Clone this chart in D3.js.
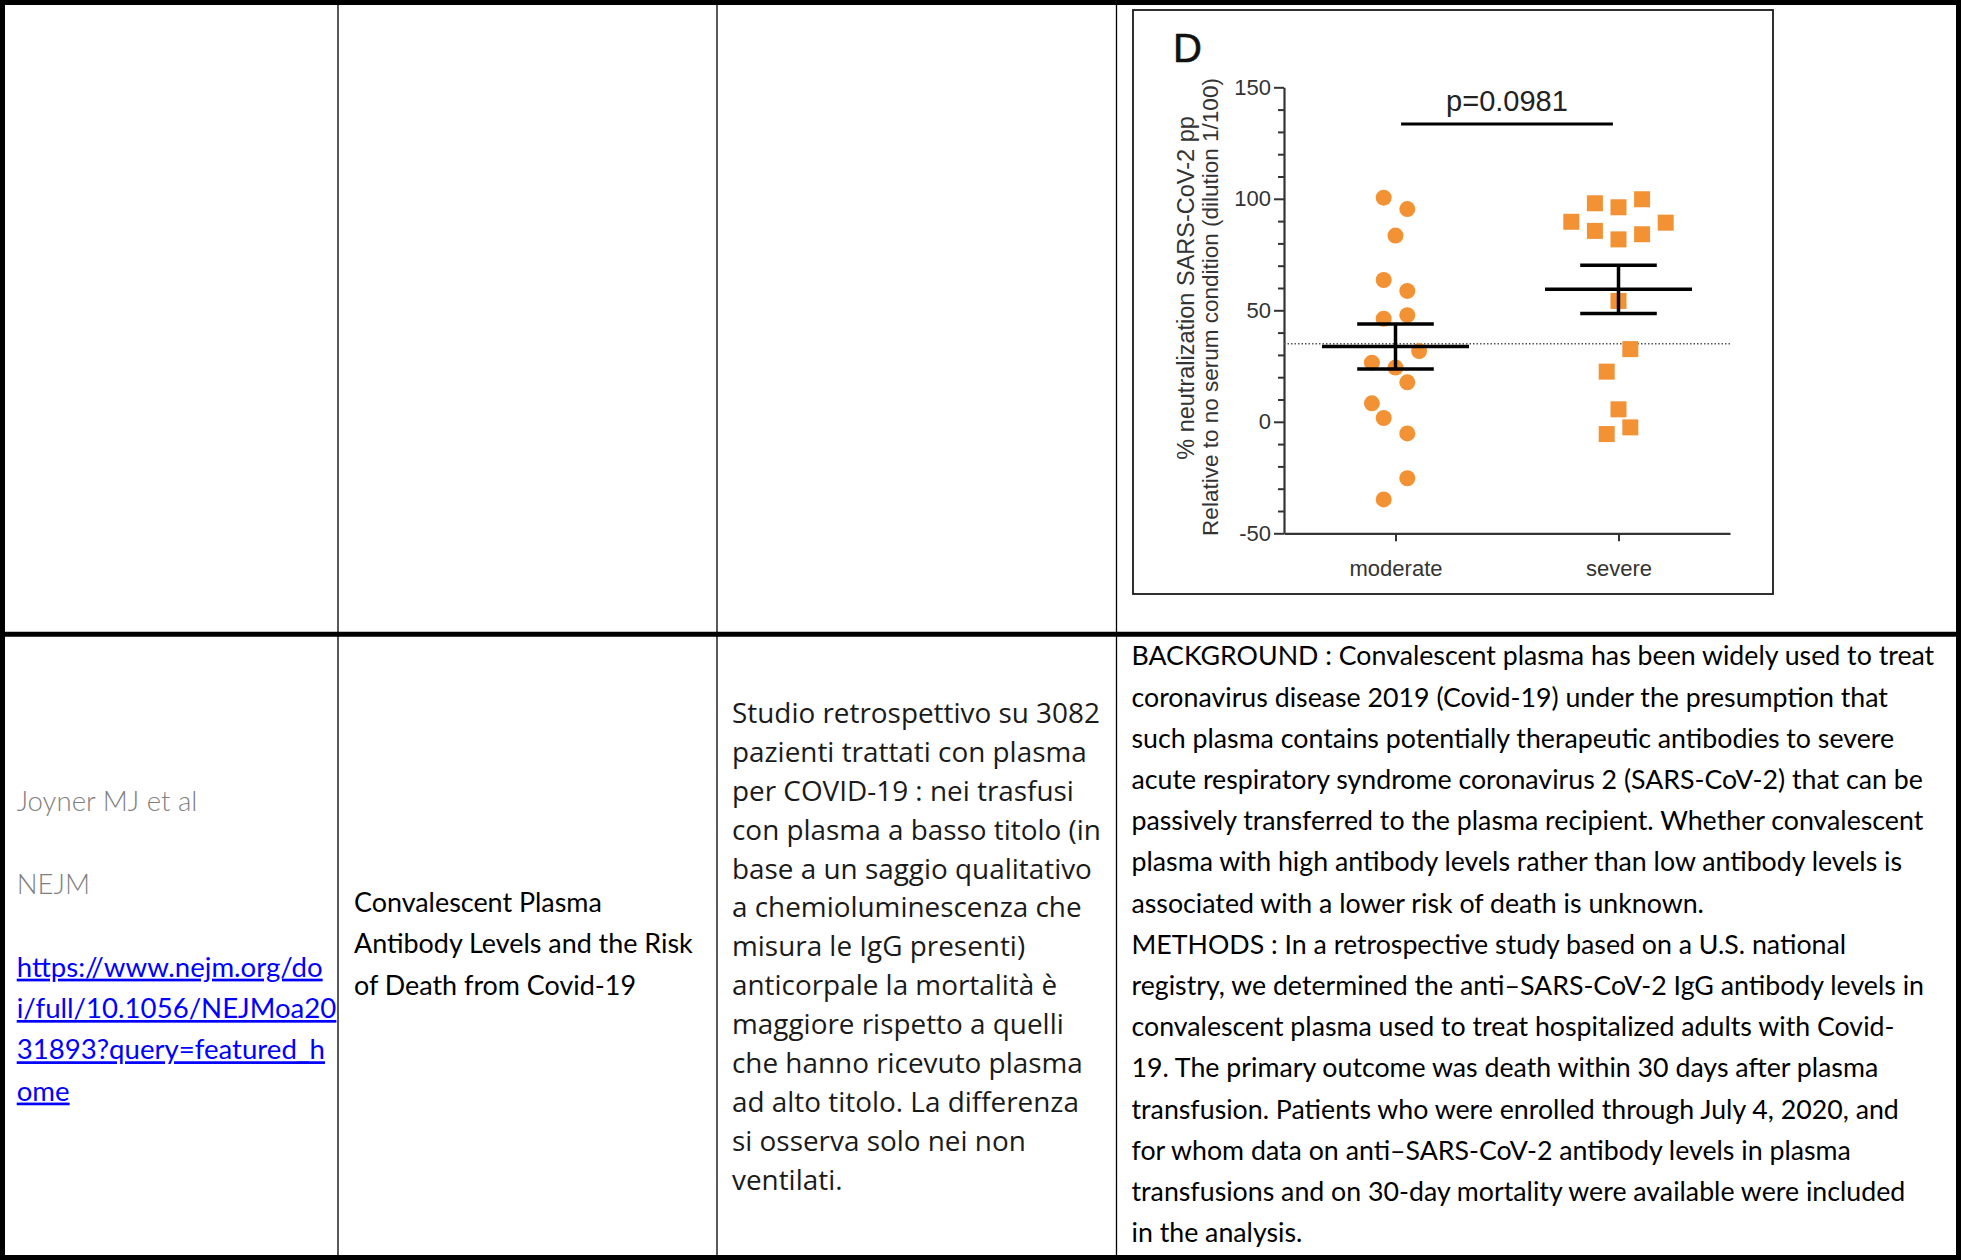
<!DOCTYPE html>
<html>
<head>
<meta charset="utf-8">
<script src="https://cdn.jsdelivr.net/npm/d3@7"></script>
<style>
html, body { margin: 0; padding: 0; background: #fff; overflow: hidden; }
</style>
</head>
<body>
<svg id="page" width="1961" height="1260"></svg>
<script>
// ---------------- DATA ----------------
const categories = ["moderate", "severe"];
const moderateValues = [100.5, 95.4, 83.5, 63.6, 58.7, 47.8, 46.2, 31.7, 26.5, 24.3, 17.7, 8.3, 1.7, -5.2, -25.3, -34.8];
const moderateJitter = [-1, 1, 0, -1, 1, 1, -1, 2, -2, 0, 1, -2, -1, 1, 1, -1];
const severeValues = [89.7, 98.0, 96.2, 99.8, 89.3, 85.6, 81.8, 84.1, 54.2, 32.6, 22.5, 5.6, -2.5, -5.5];
const severeJitter = [-4, -2, 0, 2, 4, -2, 0, 2, 0, 1, -1, 0, 1, -1];
const yTicks = [-50, 0, 50, 100, 150];
const yMinorTicks = d3.range(-50, 151, 10);
const yDomain = [-50, 150];
const referenceValue = 35;
const pValueLabel = "p=0.0981";
const panelLabel = "D";
const yTitleLines = ["% neutralization SARS-CoV-2 pp", "Relative to no serum condition (dilution 1/100)"];

const col1Lines = ["Joyner MJ et al", "", "NEJM", "", "https://www.nejm.org/do", "i/full/10.1056/NEJMoa20", "31893?query=featured_h", "ome"];
const col1Kinds = ["plain", "plain", "plain", "plain", "link", "link", "link", "link"];
const col2Lines = ["Convalescent Plasma", "Antibody Levels and the Risk", "of Death from Covid-19"];
const col3Lines = [
  "Studio retrospettivo su 3082",
  "pazienti trattati con plasma",
  "per COVID-19 : nei trasfusi",
  "con plasma a basso titolo (in",
  "base a un saggio qualitativo",
  "a chemioluminescenza che",
  "misura le IgG presenti)",
  "anticorpale la mortalità è",
  "maggiore rispetto a quelli",
  "che hanno ricevuto plasma",
  "ad alto titolo. La differenza",
  "si osserva solo nei non",
  "ventilati."
];
const col4Lines = [
  "BACKGROUND : Convalescent plasma has been widely used to treat",
  "coronavirus disease 2019 (Covid-19) under the presumption that",
  "such plasma contains potentially therapeutic antibodies to severe",
  "acute respiratory syndrome coronavirus 2 (SARS-CoV-2) that can be",
  "passively transferred to the plasma recipient. Whether convalescent",
  "plasma with high antibody levels rather than low antibody levels is",
  "associated with a lower risk of death is unknown.",
  "METHODS : In a retrospective study based on a U.S. national",
  "registry, we determined the anti\u2013SARS-CoV-2 IgG antibody levels in",
  "convalescent plasma used to treat hospitalized adults with Covid-",
  "19. The primary outcome was death within 30 days after plasma",
  "transfusion. Patients who were enrolled through July 4, 2020, and",
  "for whom data on anti\u2013SARS-CoV-2 antibody levels in plasma",
  "transfusions and on 30-day mortality were available were included",
  "in the analysis."
];

// ---------------- PAGE / TABLE ----------------
const W = 1961, H = 1260;
const svg = d3.select("#page");
svg.append("rect").attr("width", W).attr("height", H).attr("fill", "#fff");

const grid = svg.append("g");
[338, 717, 1116.5].forEach(x => {
  grid.append("line").attr("x1", x).attr("x2", x).attr("y1", 0).attr("y2", H)
    .attr("stroke", "#000").attr("stroke-width", 1.3);
});
grid.append("line").attr("x1", 0).attr("x2", W).attr("y1", 634.3).attr("y2", 634.3)
  .attr("stroke", "#000").attr("stroke-width", 5);
grid.append("rect").attr("x", 2.5).attr("y", 2.5).attr("width", W - 5).attr("height", H - 5)
  .attr("fill", "none").attr("stroke", "#000").attr("stroke-width", 5);

function drawCell(cfg) {
  const inner = svg.append("g");
  cfg.lines.forEach((t, i) => {
    if (!t) return;
    const kind = cfg.kinds ? cfg.kinds[i] : "plain";
    const txt = inner.append("text")
      .attr("x", 0)
      .attr("y", cfg.y0 + i * cfg.lh)
      .attr("font-family", cfg.font)
      .attr("font-size", cfg.size)
      .attr("font-weight", kind === "link" ? 400 : (cfg.weight || 400))
      .attr("fill", kind === "link" ? "#0000ff" : cfg.color)
      .text(t);
    if (kind === "link") txt.style("text-decoration", "underline");
  });
  const ref = inner.selectAll("text").filter(function () { return this.textContent === cfg.refText; }).node();
  const sx = ref ? cfg.refWidth / ref.getComputedTextLength() : 1;
  inner.attr("transform", `translate(${cfg.x},0) scale(${sx},1)`);
}

drawCell({ lines: col1Lines, kinds: col1Kinds, x: 16.7, y0: 811.5, lh: 41.3, font: "Lato, 'Open Sans', sans-serif",
  size: 27, weight: 300, color: "#7f7f7f", refText: "https://www.nejm.org/do", refWidth: 306 });
drawCell({ lines: col2Lines, x: 354, y0: 912, lh: 41.4, font: "Lato, 'Open Sans', sans-serif",
  size: 27, color: "#000", refText: "Antibody Levels and the Risk", refWidth: 339 });
drawCell({ lines: col3Lines, x: 732, y0: 723, lh: 38.9, font: "'Open Sans', 'Noto Sans', sans-serif",
  size: 28, color: "#1a1a1a", refText: "Studio retrospettivo su 3082", refWidth: 368 });
drawCell({ lines: col4Lines, x: 1131.5, y0: 665.5, lh: 41.2, font: "Lato, 'Open Sans', sans-serif",
  size: 27, color: "#000", refText: "BACKGROUND : Convalescent plasma has been widely used to treat", refWidth: 803 });

// ---------------- CHART ----------------
const chart = svg.append("g");
const axisColor = "#333";
const font = "'Liberation Sans', Arial, sans-serif";
const orange = "#F39234";

chart.append("rect").attr("x", 1133).attr("y", 10).attr("width", 640).attr("height", 584)
  .attr("fill", "#fff").attr("stroke", "#1a1a1a").attr("stroke-width", 1.8);

const y = d3.scaleLinear().domain(yDomain).range([533.3, 87.3]);
const x = d3.scalePoint().domain(categories).range([1284, 1730]).padding(0.5);
const slot = 11.8;

// minor ticks
chart.append("g").attr("transform", "translate(1284,0)")
  .call(d3.axisLeft(y).tickValues(yMinorTicks.filter(v => !yTicks.includes(v))).tickSize(6).tickFormat(""))
  .call(g => g.select(".domain").remove())
  .call(g => g.selectAll("line").attr("stroke", axisColor).attr("stroke-width", 2));

// major y axis
chart.append("g").attr("transform", "translate(1284,0)")
  .call(d3.axisLeft(y).tickValues(yTicks).tickSize(10).tickSizeOuter(0).tickPadding(3).tickFormat(d => String(d)))
  .call(g => g.select(".domain").attr("stroke", axisColor).attr("stroke-width", 2.2))
  .call(g => g.selectAll("line").attr("stroke", axisColor).attr("stroke-width", 2))
  .call(g => g.selectAll("text").attr("font-family", font).attr("font-size", 22).attr("fill", "#333"));

// x axis
chart.append("g").attr("transform", `translate(0,${y(-50)})`)
  .call(d3.axisBottom(x).tickSize(8).tickSizeOuter(0).tickPadding(19))
  .call(g => g.select(".domain").attr("stroke", axisColor).attr("stroke-width", 2.2))
  .call(g => g.selectAll("line").attr("stroke", axisColor).attr("stroke-width", 2))
  .call(g => g.selectAll("text").attr("font-family", font).attr("font-size", 22).attr("fill", "#333"));

// y axis title
const titleBaseX = [1194, 1217.5];
const titleCenterY = [288, 307];
const titleSize = [23.5, 22.5];
yTitleLines.forEach((t, i) => {
  chart.append("text")
    .attr("transform", `translate(${titleBaseX[i]},${titleCenterY[i]}) rotate(-90)`)
    .attr("text-anchor", "middle")
    .attr("font-family", font).attr("font-size", titleSize[i]).attr("fill", "#333")
    .text(t);
});

// panel label
chart.append("text").attr("x", 1173).attr("y", 61.7)
  .attr("font-family", font).attr("font-size", 40).attr("fill", "#111")
  .attr("stroke", "#111").attr("stroke-width", 0.6).text(panelLabel);

// reference dotted line
chart.append("line").attr("x1", 1284).attr("x2", 1730)
  .attr("y1", y(referenceValue)).attr("y2", y(referenceValue))
  .attr("stroke", "#555").attr("stroke-width", 1.5).attr("stroke-dasharray", "1.5,2");

// points
const modData = moderateValues.map((v, i) => ({ v, j: moderateJitter[i] }));
const sevData = severeValues.map((v, i) => ({ v, j: severeJitter[i] }));
chart.append("g").selectAll("circle").data(modData).join("circle")
  .attr("cx", d => x("moderate") + d.j * slot)
  .attr("cy", d => y(d.v))
  .attr("r", 8)
  .attr("fill", orange);
const sq = 16;
chart.append("g").selectAll("rect").data(sevData).join("rect")
  .attr("x", d => x("severe") + d.j * slot - sq / 2)
  .attr("y", d => y(d.v) - sq / 2)
  .attr("width", sq).attr("height", sq)
  .attr("fill", orange);

// mean +/- SEM
function meanSem(cat, vals) {
  const m = d3.mean(vals);
  const sem = d3.deviation(vals) / Math.sqrt(vals.length);
  const cx = x(cat);
  const g = chart.append("g").attr("stroke", "#000").attr("stroke-width", 3.5);
  g.append("line").attr("x1", cx - 73.5).attr("x2", cx + 73.5).attr("y1", y(m)).attr("y2", y(m));
  g.append("line").attr("x1", cx).attr("x2", cx).attr("y1", y(m - sem)).attr("y2", y(m + sem));
  g.append("line").attr("x1", cx - 38.3).attr("x2", cx + 38.3).attr("y1", y(m + sem)).attr("y2", y(m + sem));
  g.append("line").attr("x1", cx - 38.3).attr("x2", cx + 38.3).attr("y1", y(m - sem)).attr("y2", y(m - sem));
}
meanSem("moderate", moderateValues);
meanSem("severe", severeValues);

// significance annotation
const mid = (x("moderate") + x("severe")) / 2;
const half = 0.475 * (x("severe") - x("moderate"));
chart.append("line").attr("x1", mid - half).attr("x2", mid + half).attr("y1", 124).attr("y2", 124)
  .attr("stroke", "#000").attr("stroke-width", 3);
chart.append("text").attr("x", mid).attr("y", 110.7).attr("text-anchor", "middle")
  .attr("font-family", font).attr("font-size", 29).attr("fill", "#222").text(pValueLabel);
</script>
</body>
</html>
